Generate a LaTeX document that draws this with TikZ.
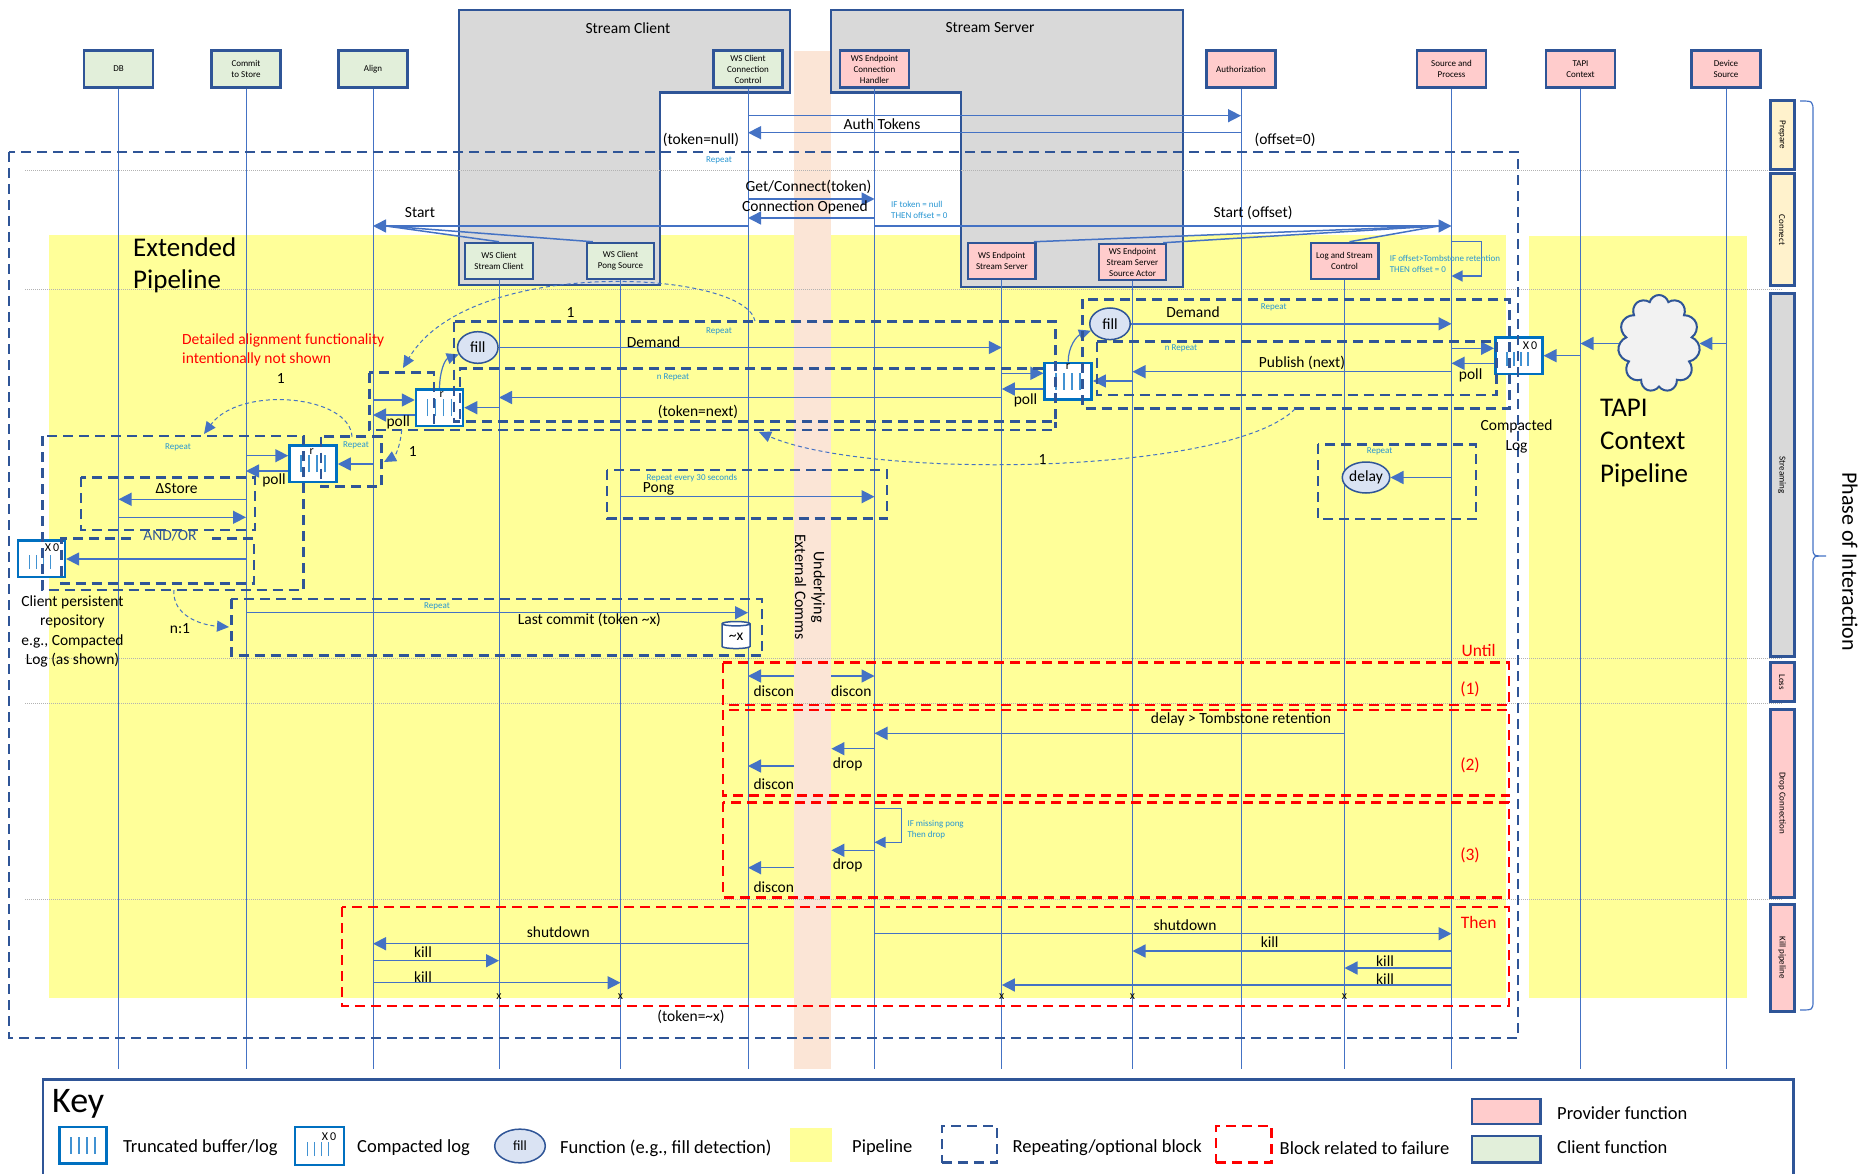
\documentclass[tikz,border=0pt]{standalone}
\usepackage{fontspec}
\setmainfont{Carlito}
\usetikzlibrary{arrows.meta,shapes.geometric,shapes.symbols}

\definecolor{dkblue}{RGB}{47,85,151}
\definecolor{lineblue}{RGB}{68,114,196}
\definecolor{bufblue}{RGB}{0,112,192}
\definecolor{barblue}{RGB}{65,146,210}
\definecolor{cyanblue}{RGB}{40,150,210}
\definecolor{pipeyellow}{RGB}{255,255,153}
\definecolor{peach}{RGB}{251,229,214}
\definecolor{greybox}{RGB}{217,217,217}
\definecolor{clientgreen}{RGB}{226,239,218}
\definecolor{providerpink}{RGB}{255,204,204}
\definecolor{phaseyellow}{RGB}{255,242,204}
\definecolor{fnfill}{RGB}{218,227,243}
\definecolor{cloudfill}{RGB}{242,242,242}

\newcommand\fontHead{\fontsize{9}{11}\selectfont}
\newcommand\fontSmall{\fontsize{9}{11}\selectfont}
\newcommand\fontMid{\fontsize{15.5}{19.5}\selectfont}
\newcommand\fontBig{\fontsize{27}{32.5}\selectfont}
\newcommand\fontKey{\fontsize{18.5}{22}\selectfont}
\newcommand\fontRed{\fontsize{17.5}{21}\selectfont}
\newcommand\fontTiny{\fontsize{12}{14}\selectfont}

\tikzset{
  lbl/.style={font=\fontMid, inner sep=0pt},
  sml/.style={font=\fontSmall, text=cyanblue, inner sep=0pt},
  smlL/.style={sml, align=left, anchor=west},
  redlbl/.style={font=\fontRed, text=red, inner sep=0pt},
  keylbl/.style={font=\fontKey, anchor=west, inner sep=0pt},
  head/.style={draw=dkblue, line width=2.5pt, minimum width=69pt, minimum height=36.6pt, align=center, font=\fontHead, inner sep=1pt},
  clientbox/.style={head, fill=clientgreen},
  providerbox/.style={head, fill=providerpink},
  lifeline/.style={draw=lineblue, line width=1pt},
  msg/.style={draw=lineblue, line width=1.5pt, -{Triangle[length=13pt,width=13pt]}},
  fan/.style={draw=lineblue, line width=1.5pt},
  selfmsg/.style={draw=lineblue, line width=1.2pt, -{Triangle[length=11pt,width=11pt]}},
  rep/.style={draw=dkblue, line width=2.5pt, dash pattern=on 10pt off 6pt},
  fail/.style={draw=red, line width=2.5pt, dash pattern=on 10pt off 6pt},
  darc/.style={draw=lineblue, line width=1pt, dash pattern=on 4pt off 3pt, -{Triangle[length=12pt,width=11pt]}},
  curv/.style={draw=lineblue, line width=1.2pt, -{Triangle[length=12pt,width=11pt]}},
  bufbox/.style={draw=bufblue, line width=2.5pt, fill=white, minimum width=47pt, minimum height=36.5pt, inner sep=0pt,
    path picture={\foreach \dx in {-12,-4,4,12}{\draw[barblue, line width=1.5pt] ([shift={(\dx*1pt,-8.5pt)}]path picture bounding box.center) -- ++(0pt,17pt);}}},
  clogbox/.style={draw=bufblue, line width=2.5pt, fill=white, minimum width=47pt, minimum height=36.5pt, inner sep=0pt,
    path picture={\foreach \dx in {-12,-5,2,9}{\draw[barblue, line width=1.5pt] ([shift={(\dx*1pt,-10pt)}]path picture bounding box.center) -- ++(0pt,14pt);}}},
  fnnode/.style={ellipse, draw=dkblue, line width=1.5pt, fill=fnfill, minimum width=40.5pt, minimum height=31.6pt, inner sep=0pt, font=\fontMid},
  phasebox/.style={draw=dkblue, line width=3pt, rotate=-90, minimum height=24pt, inner sep=0pt, font=\fontSmall},
  dotline/.style={draw=black!30, line width=0.8pt, dash pattern=on 1pt off 1pt},
}

\begin{document}
\begin{tikzpicture}[x=1pt,y=-1pt]
\useasboundingbox (0,0) rectangle (1863,1174);

% pipelines
\fill[pipeyellow] (49,235) rectangle (1506,998);
\fill[pipeyellow] (1529,236) rectangle (1747,998);
% underlying comms band
\node[fill=peach, minimum width=37pt, minimum height=1018pt, anchor=north west, inner sep=0pt] (comms) at (794,51) {};
% stream client / server
\filldraw[fill=greybox, draw=dkblue, line width=2.5pt] (459,10) -- (790,10) -- (790,92.7) -- (660,92.7) -- (660,285) -- (459,285) -- cycle;
\filldraw[fill=greybox, draw=dkblue, line width=2.5pt] (831,10) -- (1183,10) -- (1183,287) -- (961,287) -- (961,92.7) -- (831,92.7) -- cycle;
\node[lbl] (scTitle) at (628,28) {Stream Client};
\node[lbl] (ssTitle) at (990,28) {Stream Server};

% phase separators
\foreach \yy in {170,289,658,703,899} \draw[dotline] (25,\yy) -- (1782,\yy);

% lifeline heads
\node[clientbox] (db) at (118.5,69) {DB};
\node[clientbox] (cts) at (246,69) {Commit\\to Store};
\node[clientbox] (align) at (373,69) {Align};
\node[clientbox] (wscc) at (748,69) {WS Client\\Connection\\Control};
\node[providerbox] (wsch) at (874.5,69) {WS Endpoint\\Connection\\Handler};
\node[providerbox] (auth) at (1241,69) {Authorization};
\node[providerbox] (sap) at (1451.5,69) {Source and\\Process};
\node[providerbox] (tapi) at (1580.5,69) {TAPI\\Context};
\node[providerbox] (dev) at (1726,69) {Device\\Source};
\node[clientbox, minimum width=68pt, minimum height=36pt] (wssc) at (499,261) {WS Client\\Stream Client};
\node[clientbox, minimum width=67pt, minimum height=36pt] (wsps) at (620.5,261) {WS Client\\Pong Source};
\node[providerbox, minimum width=67.5pt, minimum height=36pt] (wsess) at (1001.8,261) {WS Endpoint\\Stream Server};
\node[providerbox, minimum width=67pt, minimum height=36pt] (wsesa) at (1132.5,262) {WS Endpoint\\Stream Server\\Source Actor};
\node[providerbox, minimum width=67.5pt, minimum height=36pt] (lsc) at (1344.5,261) {Log and Stream\\Control};

% lifelines
\foreach \n in {db,cts,align,wscc,wsch,auth,sap,tapi,dev,wssc,wsps,wsess,wsesa,lsc}
  \draw[lifeline] (\n.south) -- (\n |- 0,1069);

% buffers, functions, cloud
\node[bufbox] (bufA) at (313,463.7) {};
\node[bufbox] (bufC) at (439.5,407.7) {};
\node[bufbox] (bufS) at (1068.2,381) {};
\node[clogbox] (logR) at (1518.8,355.9) {};
\node[clogbox] (logL) at (41.4,558.7) {};
\node[font=\fontTiny] (logRx) at (1530,346) {X\,0};
\node[font=\fontTiny] (logLx) at (52,548) {X\,0};
\node[font=\fontTiny] (rA) at (311.7,451.7) {r};
\node[font=\fontTiny] (rC) at (441.7,394.3) {r};
\node[font=\fontTiny] (rS) at (1068,367) {r};
\node[fnnode] (fillL) at (477.8,347.5) {fill};
\node[fnnode] (fillR) at (1110,323.8) {fill};
\node[fnnode, minimum width=41pt, minimum height=31pt] (delay) at (1366,477.5) {delay};
\node[cloud, cloud puffs=11, aspect=0.85, draw=dkblue, line width=2pt, fill=cloudfill, minimum width=82pt, minimum height=97pt, inner sep=0pt] (cloud) at (1659,343.5) {};
\node[cylinder, shape border rotate=90, aspect=0.3, draw=dkblue, line width=1.5pt, fill=white, minimum width=28pt, minimum height=27pt, inner sep=0pt, font=\fontMid] (cyl) at (736,636.5) {\textasciitilde x};

% ---------- Prepare / Connect
\draw[msg] (wscc |- 0,115.7) -- (auth |- 0,115.7);
\draw[msg] (auth |- 0,132.7) -- (wscc |- 0,132.7);
\draw[msg] (wscc |- 0,199) -- (wsch |- 0,199);
\draw[msg] (wsch |- 0,218) -- (wscc |- 0,218);
\coordinate (stTip) at (align |- 0,226);
\draw[msg] (wscc |- 0,226) -- (stTip);
\draw[fan] (wssc.north) -- ([xshift=13pt]stTip);
\draw[fan] ([xshift=7pt]wsps.north west) -- ([xshift=13pt]stTip);
\coordinate (soTip) at (sap |- 0,226);
\draw[msg] (wsch |- 0,226) -- (soTip);
\draw[fan] ([xshift=-3pt]wsess.north east) -- ([xshift=-13pt]soTip);
\draw[fan] ([xshift=-4pt]wsesa.north east) -- ([xshift=-13pt]soTip);
\draw[fan] ([xshift=5pt]lsc.north) -- ([xshift=-13pt]soTip);
\coordinate (soS1) at (1481.5,241.7);
\coordinate (soS2) at (1481.5,276);
\draw[selfmsg] (sap |- soS1) -- (soS1) -- (soS2) -- (sap |- soS2);

% ---------- Streaming: client side
\draw[msg] (fillL.east) -- (wsess |- fillL.east);
\draw[msg] (align |- 0,400) -- (bufC.west |- 0,400);
\draw[msg] (bufC.west |- 0,415) -- (align |- 0,415);
\draw[msg] (wssc |- 0,407.7) -- (bufC.east |- 0,407.7);
\draw[msg] (wsess |- 0,397.5) -- (wssc |- 0,397.5);
\draw[curv] (bufC.north) to[out=90,in=200] (fillL.200);
% server side
\draw[msg] (wsess |- 0,373.3) -- (bufS.west |- 0,373.3);
\draw[msg] (bufS.west |- 0,389) -- (wsess |- 0,389);
\draw[msg] (wsesa |- 0,381) -- (bufS.east |- 0,381);
\draw[msg] (sap |- 0,371.7) -- (wsesa |- 0,371.7);
\draw[msg] (sap |- 0,348.3) -- (logR.west |- 0,348.3);
\draw[msg] (logR.west |- 0,363.3) -- (sap |- 0,363.3);
\draw[msg] (tapi |- 0,355.7) -- (logR.east |- 0,355.7);
\draw[msg] (cloud.west) -- (tapi |- cloud.west);
\draw[msg] (dev |- cloud.east) -- (cloud.east);
\draw[msg] (fillR.east) -- (sap |- fillR.east);
\draw[curv] (bufS.north) to[out=90,in=200] (fillR.200);
% align side
\draw[msg] (cts |- 0,455.7) -- (bufA.west |- 0,455.7);
\draw[msg] (bufA.west |- 0,471) -- (cts |- 0,471);
\draw[msg] (align |- 0,464) -- (bufA.east |- 0,464);
\draw[msg] (cts |- 0,499.3) -- (db |- 0,499.3);
\draw[msg] (db |- 0,517.3) -- (cts |- 0,517.3);
\draw[msg] (cts |- 0,559) -- (logL.east |- 0,559);
\draw[msg] (cts |- 0,612.7) -- (wscc |- 0,612.7);
\draw[msg] (wsps |- 0,496.7) -- (wsch |- 0,496.7);
\draw[msg] (sap |- delay.east) -- (delay.east);

% ---------- Loss / Drop
\draw[msg] (comms.west |- 0,676) -- (wscc |- 0,676);
\draw[msg] (comms.east |- 0,676) -- (wsch |- 0,676);
\draw[msg] (lsc |- 0,733.3) -- (wsch |- 0,733.3);
\draw[msg] (wsch |- 0,748.7) -- (comms.east |- 0,748.7);
\draw[msg] (comms.west |- 0,766) -- (wscc |- 0,766);
\coordinate (mpS1) at (901.5,808.3);
\coordinate (mpS2) at (901.5,842.3);
\draw[selfmsg] (wsch |- mpS1) -- (mpS1) -- (mpS2) -- (wsch |- mpS2);
\draw[msg] (wsch |- 0,850.3) -- (comms.east |- 0,850.3);
\draw[msg] (comms.west |- 0,867.7) -- (wscc |- 0,867.7);
% ---------- Kill
\draw[msg] (wscc |- 0,943.7) -- (align |- 0,943.7);
\draw[msg] (align |- 0,960.7) -- (wssc |- 0,960.7);
\draw[msg] (align |- 0,982.7) -- (wsps |- 0,982.7);
\draw[msg] (wsch |- 0,933.7) -- (sap |- 0,933.7);
\draw[msg] (sap |- 0,951) -- (wsesa |- 0,951);
\draw[msg] (sap |- 0,968) -- (lsc |- 0,968);
\draw[msg] (sap |- 0,985) -- (wsess |- 0,985);

% ---------- dashed blocks
\draw[rep] (9,152) rectangle (1518,1038);
\draw[rep] (454,321.7) rectangle (1055.7,421.7);
\draw[rep] (1043,368.3) -- (460,368.3) -- (460,421.7);
\draw[rep] (369.3,372.7) rectangle (434,430);
\draw[rep] (434,430) -- (1055.7,430) -- (1055.7,421.7);
\draw[rep] (321,436.7) rectangle (381.7,486.7);
\draw[rep] (42.7,436) rectangle (303.7,590);
\draw[rep] (81,477.3) rectangle (255,530);
\draw[rep] (130.5,538.7) -- (61.3,538.7) -- (61.3,583.3) -- (254,583.3) -- (254,538.7) -- (211.5,538.7);
\draw[rep] (231.3,599) rectangle (762,655.7);
\draw[rep] (606.8,470) rectangle (887,518.3);
\draw[rep] (1318,444.3) rectangle (1476,519);
\draw[rep] (1082.7,299.3) rectangle (1509.5,408.3);
\draw[rep] (1097,341.7) rectangle (1496.5,395);
\draw[fail] (722.8,662.7) rectangle (1509,705);
\draw[fail] (722.8,710) rectangle (1509,795.7);
\draw[fail] (722.8,802.3) rectangle (1509,897.3);
\draw[fail] (342,907) rectangle (1509,1006);

% dashed reference arcs
\draw[darc] (755,321) .. controls (745,270) and (470,255) .. (403,368);
\draw[darc] (352,436.7) .. controls (350,395) and (240,385) .. (204,434);
\draw[darc] (401.7,430) .. controls (400,448) and (395,456) .. (384,462);
\draw[darc] (1295,409) .. controls (1230,475) and (870,480) .. (759,432);
\draw[darc] (174,590) .. controls (172,615) and (200,625) .. (229,627);

% ---------- labels
\node[lbl] (tAuth) at (882,124) {Auth Tokens};
\node[lbl] (tTokNull) at (701,140) {(token=null)};
\node[lbl] (tOff0) at (1285,140) {(offset=0)};
\node[sml] (tRep0) at (719,160) {Repeat};
\node[lbl] (tGet) at (808.5,187) {Get/Connect(token)};
\node[lbl] (tOpen) at (805,207) {Connection Opened};
\node[smlL] (tIfTok) at (891,209.5) {IF token = null\\THEN offset = 0};
\node[lbl] (tStart) at (420,213) {Start};
\node[lbl] (tStartOff) at (1253,213) {Start (offset)};
\node[smlL] (tIfOff) at (1389.6,263.6) {IF offset>Tombstone retention\\THEN offset = 0};
\node[font=\fontBig, align=left, anchor=west, inner sep=0pt] (tExt) at (133,265.5) {Extended\\Pipeline};
\node[font=\fontMid, text=red, align=left, anchor=west, inner sep=0pt] (tDetail) at (182,349.7) {Detailed alignment functionality\\intentionally not shown};
\node[lbl] (tOne1) at (570.6,313) {1};
\node[lbl] (tOne2) at (280.7,379) {1};
\node[lbl] (tOne3) at (412.7,452) {1};
\node[lbl] (tOne4) at (1042.5,460) {1};
\node[lbl] (tDem1) at (653.6,342.3) {Demand};
\node[lbl] (tDem2) at (1193,312.3) {Demand};
\node[sml] (tRep1) at (719,331) {Repeat};
\node[sml] (tRep2) at (1273.7,307.3) {Repeat};
\node[sml] (tNRep1) at (673,377.3) {n Repeat};
\node[sml] (tNRep2) at (1181,348.3) {n Repeat};
\node[lbl] (tPoll1) at (398.3,422.3) {poll};
\node[lbl] (tPoll2) at (274,480) {poll};
\node[lbl] (tPoll3) at (1025.5,400) {poll};
\node[lbl] (tPoll4) at (1470.6,375) {poll};
\node[lbl] (tTokNext) at (698,412.3) {(token=next)};
\node[lbl] (tPublish) at (1302,363.3) {Publish (next)};
\node[lbl, align=center, font=\fontsize{15.5}{20.7}\selectfont] (tCompLog) at (1516.5,436.3) {Compacted\\Log};
\node[font=\fontsize{27}{33}\selectfont, align=left, anchor=west, inner sep=0pt] (tTapi) at (1600,443.5) {TAPI\\Context\\Pipeline};
\node[sml] (tRep30) at (691.8,478.3) {Repeat every 30 seconds};
\node[lbl] (tPong) at (658.6,489) {Pong};
\node[sml] (tRepD) at (1379.6,451.7) {Repeat};
\node[sml] (tRepA1) at (178,447) {Repeat};
\node[sml] (tRepA2) at (356,445.3) {Repeat};
\node[lbl] (tStore) at (176.7,488.3) {ΔStore};
\node[lbl, text=dkblue] (tAndOr) at (170,535.3) {AND/OR};
\node[lbl, align=center] (tClient) at (72.5,631.6) {Client persistent\\repository\\e.g., Compacted\\Log (as shown)};
\node[lbl] (tN1) at (180,628.3) {n:1};
\node[sml] (tRepLC) at (437,606) {Repeat};
\node[lbl] (tLast) at (589.4,620.3) {Last commit (token \textasciitilde x)};
\node[font=\fontsize{16}{18.6}\selectfont, rotate=-90, align=center, inner sep=0pt] (tComms) at (810,587) {Underlying\\External Comms};
\node[redlbl] (tUntil) at (1478.7,650) {Until};
\node[redlbl] (tC1) at (1470,689) {(1)};
\node[redlbl] (tC2) at (1470,765) {(2)};
\node[redlbl] (tC3) at (1470,855) {(3)};
\node[redlbl] (tThen) at (1478.7,922.7) {Then};
\node[lbl] (tDis1) at (773.8,691.3) {discon};
\node[lbl] (tDis2) at (851.3,691.3) {discon};
\node[lbl] (tDis3) at (773.8,784.3) {discon};
\node[lbl] (tDis4) at (773.8,886.7) {discon};
\node[lbl] (tDrop1) at (847.6,764.3) {drop};
\node[lbl] (tDrop2) at (847.6,865.7) {drop};
\node[lbl] (tDelayTomb) at (1241,719.3) {delay > Tombstone retention};
\node[smlL] (tIfPong) at (907.3,830) {IF missing pong\\Then drop};
\node[lbl] (tShut1) at (558.3,932.3) {shutdown};
\node[lbl] (tShut2) at (1185,925) {shutdown};
\node[lbl] (tKill1) at (423,952) {kill};
\node[lbl] (tKill2) at (423,977) {kill};
\node[lbl] (tKill3) at (1269.6,942.3) {kill};
\node[lbl] (tKill4) at (1385,961) {kill};
\node[lbl] (tKill5) at (1385,979) {kill};
\node[font=\fontTiny] (tX1) at (wssc |- 0,996.7) {x};
\node[font=\fontTiny] (tX2) at (wsps |- 0,996.7) {x};
\node[font=\fontTiny] (tX3) at (wsess |- 0,996.7) {x};
\node[font=\fontTiny] (tX4) at (wsesa |- 0,996.7) {x};
\node[font=\fontTiny] (tX5) at (lsc |- 0,996.7) {x};
\node[lbl] (tTokX) at (691,1017) {(token=\textasciitilde x)};

% ---------- phases
\node[phasebox, fill=phaseyellow, minimum width=68.6pt] (phPrep) at (1782,135) {Prepare};
\node[phasebox, fill=phaseyellow, minimum width=112pt] (phConn) at (1782,230) {Connect};
\node[phasebox, fill=greybox, minimum width=362pt] (phStream) at (1782,475) {Streaming};
\node[phasebox, fill=providerpink, minimum width=39pt] (phLoss) at (1782,682.2) {Loss};
\node[phasebox, fill=providerpink, minimum width=188pt] (phDrop) at (1782,803) {Drop Connection};
\node[phasebox, fill=providerpink, minimum width=107pt] (phKill) at (1782,957.5) {Kill pipeline};
\draw[lineblue, line width=1.2pt] (1800,101) .. controls (1813,101) .. (1813,112) -- (1813,548) .. controls (1813,556) .. (1826,556) .. controls (1813,556) .. (1813,564) -- (1813,1000) .. controls (1813,1010) .. (1800,1010);
\node[font=\fontsize{22}{26}\selectfont, rotate=-90, inner sep=0pt] (tPhase) at (1850,561.5) {Phase of Interaction};

% ---------- key
\draw[dkblue, line width=2.5pt] (43,1079.3) rectangle (1793.5,1200);
\node[font=\fontsize{36}{40}\selectfont, anchor=west, inner sep=0pt] (kKey) at (52,1104) {Key};
\node[bufbox] (kBuf) at (83,1145) {};
\node[keylbl] (kBufT) at (122.8,1148) {Truncated buffer/log};
\node[clogbox, minimum width=49pt, minimum height=38pt] (kLog) at (319.5,1146) {};
\node[font=\fontTiny] (kX0) at (329,1137) {X\,0};
\node[keylbl] (kLogT) at (357,1148) {Compacted log};
\node[fnnode, minimum width=50.6pt, minimum height=33.7pt, font=\fontsize{14}{16}\selectfont] (kFill) at (520,1146) {fill};
\node[keylbl] (kFillT) at (560,1148) {Function (e.g., fill detection)};
\node[fill=pipeyellow, minimum width=42pt, minimum height=33.7pt, inner sep=0pt] (kPipe) at (811,1145) {};
\node[keylbl] (kPipeT) at (852,1148) {Pipeline};
\node[rep, minimum width=55pt, minimum height=36.7pt, inner sep=0pt] (kRep) at (969.3,1144.3) {};
\node[keylbl] (kRepT) at (1012.4,1148) {Repeating/optional block};
\node[fail, minimum width=55.5pt, minimum height=36.7pt, inner sep=0pt] (kFail) at (1243.7,1144.3) {};
\node[keylbl] (kFailT) at (1279.5,1148) {Block related to failure};
\node[draw=dkblue, line width=2.5pt, fill=providerpink, minimum width=68.5pt, minimum height=25pt, inner sep=0pt] (kProv) at (1506.2,1111.5) {};
\node[keylbl] (kProvT) at (1557,1113) {Provider function};
\node[draw=dkblue, line width=2.5pt, fill=clientgreen, minimum width=68.5pt, minimum height=26.7pt, inner sep=0pt] (kCli) at (1506.2,1149.3) {};
\node[keylbl] (kCliT) at (1557,1147.3) {Client function};
\end{tikzpicture}
\end{document}
